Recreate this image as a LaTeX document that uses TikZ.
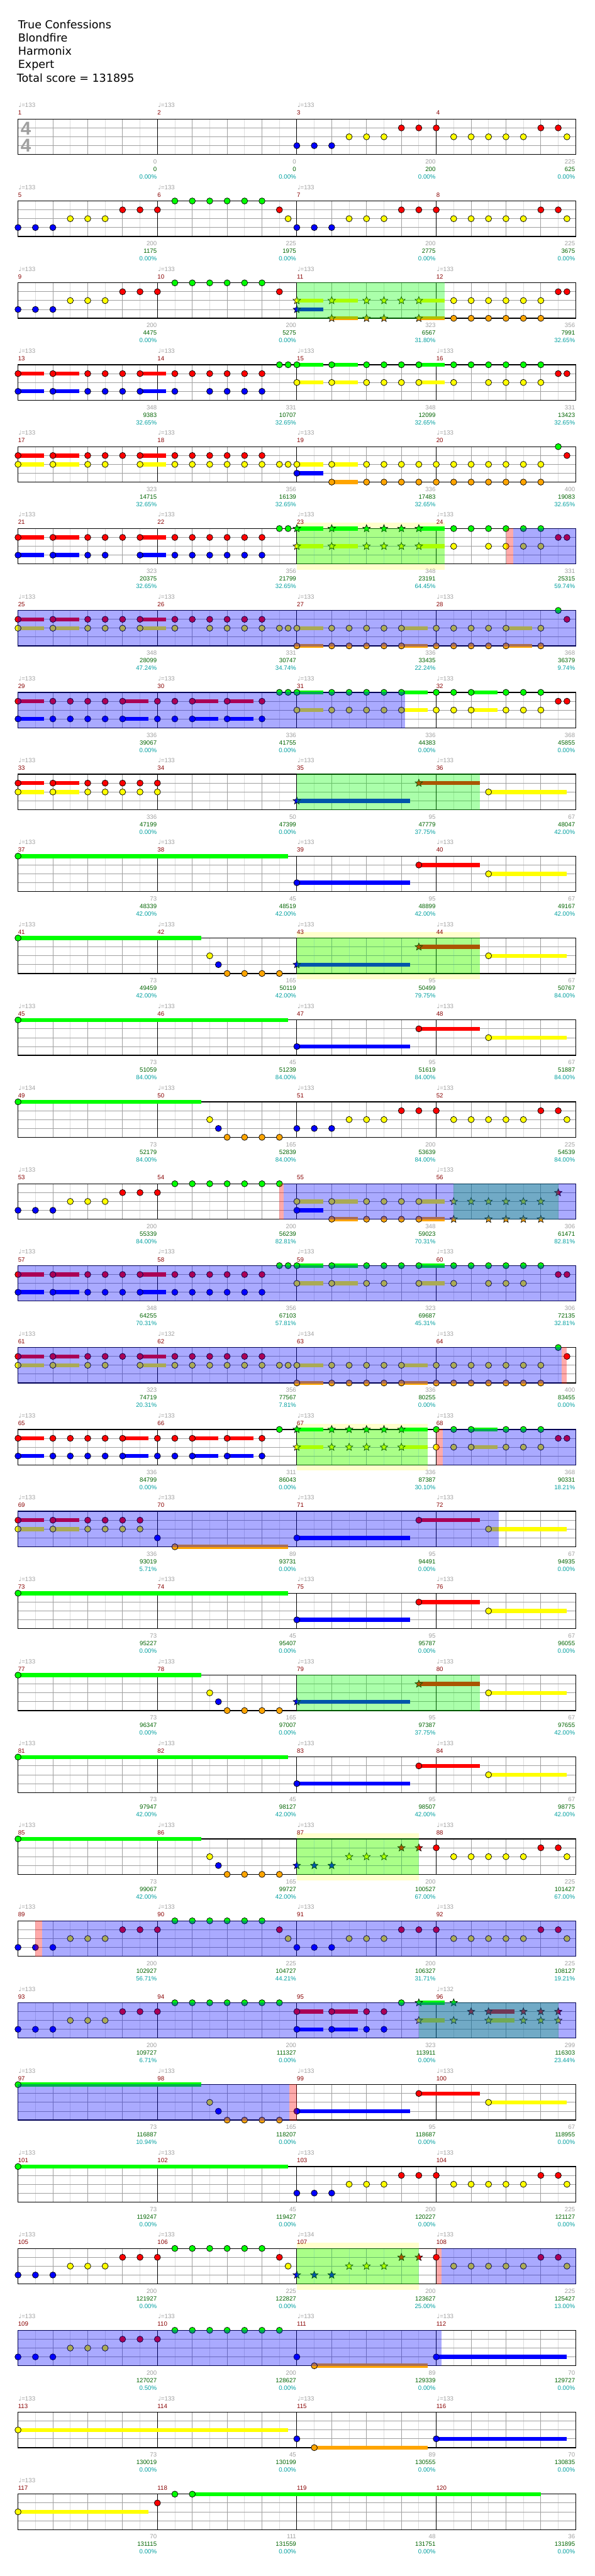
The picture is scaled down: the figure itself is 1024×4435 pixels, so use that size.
\documentclass[tikz,border=0pt]{standalone}
\usepackage{fontspec}
\setmainfont{Liberation Sans}
\newfontfamily\titlef{DejaVu Sans}
\newfontfamily\symf{DejaVu Sans}
\usetikzlibrary{shapes.geometric}
\definecolor{c0}{RGB}{0,255,0}
\definecolor{c1}{RGB}{255,0,0}
\definecolor{c2}{RGB}{255,255,0}
\definecolor{c3}{RGB}{0,0,255}
\definecolor{c4}{RGB}{255,165,0}
\definecolor{lgray}{RGB}{221,221,221}
\definecolor{mgray}{RGB}{160,160,160}
\definecolor{tgray}{RGB}{160,160,160}
\definecolor{mred}{RGB}{136,0,0}
\definecolor{sgreen}{RGB}{0,100,0}
\definecolor{steal}{RGB}{0,160,160}
\definecolor{paley}{RGB}{255,255,204}
\newcommand\smf{\fontsize{10.5}{12}\selectfont}
\tikzset{
 notest/.style={draw=black,line width=0.8pt},
 starst/.style={star,star points=5,star point ratio=2.3,minimum size=13.5pt,inner sep=0pt,draw=black,line width=0.7pt},
 mnum/.style={anchor=base west,inner sep=0pt,text=mred,font=\smf},
 tmp/.style={anchor=base west,inner sep=0pt,text=tgray,font=\smf},
 sca/.style={anchor=base east,inner sep=0pt,text=tgray,font=\smf},
 scb/.style={anchor=base east,inner sep=0pt,text=sgreen,font=\smf},
 scc/.style={anchor=base east,inner sep=0pt,text=steal,font=\smf},
 ttl/.style={anchor=base west,inner sep=0pt,font=\titlef\fontsize{19}{23}\selectfont},
 tsig/.style={anchor=base,inner sep=0pt,text=mgray,font=\bfseries\fontsize{32}{32}\selectfont},
}
\newcommand\nt[2]{\filldraw[notest,fill=c#2] ({31+30*(#1)},{15.25*(#2)}) circle (5.3pt);}
\newcommand\st[2]{\node[starst,fill=c#2] at ({31+30*(#1)},{15.25*(#2)}) {};}
\newcommand\su[3]{\fill[c#3] ({31+30*(#1)},{15.25*(#3)-3.5}) rectangle ({31+30*(#2)},{15.25*(#3)+3.5});}
\newcommand\sn[3]{\su{#1}{#2}{#3}\nt{#1}{#3}}
\newcommand\sst[3]{\su{#1}{#2}{#3}\st{#1}{#3}}
\newcommand\Ns[1]{\foreach \qa/\qb in {#1}{\nt{\qa}{\qb}}}
\newcommand\Nl[2]{\foreach \qa in {#2}{\nt{\qa}{#1}}}
\newcommand\Sl[2]{\foreach \qa in {#2}{\st{\qa}{#1}}}
\newcommand\hpart[2]{\sn{0}{1.5}{#1}\sn{2}{3.5}{#1}\sn{7}{8.5}{#1}\Nl{#1}{#2}}
\newcommand\hB[1]{\sn{0}{1.5}{#1}\sn{6}{7.5}{#1}\sn{10}{11.5}{#1}\sn{12}{13.5}{#1}\Nl{#1}{2,3,4,5,8,9,14}}
\newcommand\riffH{\Nl{3}{0,1,2}\Nl{2}{3,4,5}\Nl{1}{6,7,8}\Nl{0}{9,...,14}}
\newcommand\riffA[1]{\foreach \qa/\qb in {0/3,1/3,2/3,3/2,4/2,5/2,6/1,7/1,8/1,9/2,10/2,11/2,12/2,13/2,14/1,15/1,15.5/2}{\nt{#1+\qa}{\qb}}}
\newcommand\riffAS{\Sl{3}{16,17,18}\Sl{2}{19,20,21}\Sl{1}{22,23}\nt{24}{1}\Nl{2}{25,...,29}\Nl{1}{30,31}\nt{31.5}{2}}
\newcommand\leadin{\sn{0}{10.5}{0}\Ns{11/2,11.5/3,12/4,13/4,14/4,15/4}}
\newcommand\longN{\sn{16}{22.5}{3}\sn{23}{26.5}{1}\sn{27}{31.5}{2}}
\newcommand\longS{\sst{16}{22.5}{3}\sst{23}{26.5}{1}\sn{27}{31.5}{2}}
\newcommand\staff{%
 \foreach \qa in {1,3,...,31}{\draw[lgray,line width=1pt] ({31+30*\qa},0) -- ({31+30*\qa},61);}
 \foreach \qa in {2,4,6,10,12,14,18,20,22,26,28,30}{\draw[mgray,line width=1pt] ({31+30*\qa},0) -- ({31+30*\qa},61);}
 \foreach \qa in {1,2,3}{\draw[mgray,line width=1pt] (31,{15.25*\qa}) -- (991,{15.25*\qa});}
 \foreach \qa in {8,16,24}{\draw[black,line width=1pt] ({31+30*\qa},0) -- ({31+30*\qa},61);}
 \draw[black,line width=1.4pt] (31,0) rectangle (991,61);}
\newcommand\ovB[2]{\fill[blue,opacity=0.333] (#1,-0.7) rectangle (#2,61.7);}
\newcommand\ovR[2]{\fill[red,opacity=0.333] (#1,-0.7) rectangle (#2,61.7);}
\newcommand\ovG[2]{\fill[c0,opacity=0.333] ({31+30*(#1)},-0.7) rectangle ({31+30*(#2)},61.7);}
\newcommand\pale[2]{\fill[paley] ({31+30*(#1)},-10) rectangle ({31+30*(#2)},71);}
\newcommand\lab[6]{%
 \node[mnum] at ({31+240*#1},-7) {#2};
 \if\relax\detokenize{#3}\relax\else\node[tmp] at ({32+240*#1},-20) {{\symf\char"2669}=#3};\fi
 \node[sca] at ({270+240*#1},77) {#4};
 \node[scb] at ({270+240*#1},90) {#5};
 \node[scc] at ({270+240*#1},103) {#6};}
\begin{document}
\begin{tikzpicture}[x=1pt,y=-1pt]
\fill[white] (0,0) rectangle (1024,4435);
\useasboundingbox (0,0) rectangle (1024,4435);
\node[ttl] (t1) at (31,49) {True Confessions};
\node[ttl] (t2) at (31,72) {Blondfire};
\node[ttl] (t3) at (31,95) {Harmonix};
\node[ttl] (t4) at (31,117) {Expert};
\node[ttl] (t5) at (29,141) {Total score = 131895};
% row 0
\begin{scope}[shift={(0,205)}]
\staff
\node[tsig] (ts1) at (44.5,27) {4};\node[tsig] (ts2) at (44.5,57) {4};
\riffA{16}
\lab{0}{1}{133}{0}{0}{0.00\%}\lab{1}{2}{133}{0}{0}{0.00\%}\lab{2}{3}{133}{200}{200}{0.00\%}\lab{3}{4}{}{225}{625}{0.00\%}
\end{scope}
% row 1
\begin{scope}[shift={(0,346)}]
\staff
\riffH\Ns{15/1,15.5/2}\riffA{16}
\lab{0}{5}{133}{200}{1175}{0.00\%}\lab{1}{6}{133}{225}{1975}{0.00\%}\lab{2}{7}{133}{200}{2775}{0.00\%}\lab{3}{8}{}{225}{3675}{0.00\%}
\end{scope}
% row 2
\begin{scope}[shift={(0,487)}]
\staff
\riffH\nt{15}{1}
\sst{16}{17.5}{2}\sst{16}{17.5}{3}\sst{18}{19.5}{2}\sst{18}{19.5}{4}\Sl{2}{20,21,22}\Sl{4}{20,21}\sst{23}{24.5}{2}\sst{23}{24.5}{4}
\Nl{2}{25,...,30}\Nl{4}{25,...,30}\Nl{1}{31,31.5}
\ovG{16}{24.5}
\lab{0}{9}{133}{200}{4475}{0.00\%}\lab{1}{10}{133}{200}{5275}{0.00\%}\lab{2}{11}{133}{323}{6567}{31.80\%}\lab{3}{12}{133}{356}{7991}{32.65\%}
\end{scope}
% row 3
\begin{scope}[shift={(0,628)}]
\staff
\hpart{1}{4,5,6,9,10,11,12,13,14}\hpart{3}{4,5,6,9,11,12,13,14}
\Nl{0}{15,15.5}
\sn{16}{17.5}{0}\sn{18}{19.5}{0}\sn{23}{24.5}{0}\Nl{0}{20,21,22,25,26,27,28,29,30}
\sn{16}{17.5}{2}\sn{18}{19.5}{2}\sn{23}{24.5}{2}\Nl{2}{20,21,22,25,27,28,29,30}
\Nl{1}{31,31.5}
\lab{0}{13}{133}{348}{9383}{32.65\%}\lab{1}{14}{133}{331}{10707}{32.65\%}\lab{2}{15}{133}{348}{12099}{32.65\%}\lab{3}{16}{133}{331}{13423}{32.65\%}
\end{scope}
% row 4
\begin{scope}[shift={(0,769)}]
\staff
\hpart{1}{4,5,6,9,10,11,12,13,14}\hpart{2}{4,5,9,10,11,12,13,14}
\Nl{2}{15,15.5}\sn{16}{17.5}{2}\sn{18}{19.5}{2}\Nl{2}{20,...,30}
\sn{16}{17.5}{3}
\sn{18}{19.5}{4}\Nl{4}{20,...,30}
\nt{31}{0}\nt{31.5}{1}
\lab{0}{17}{133}{323}{14715}{32.65\%}\lab{1}{18}{133}{356}{16139}{32.65\%}\lab{2}{19}{133}{336}{17483}{32.65\%}\lab{3}{20}{133}{400}{19083}{32.65\%}
\end{scope}
% row 5
\begin{scope}[shift={(0,910)}]
\pale{16}{24.5}
\staff
\hpart{1}{4,5,6,9,10,11,12,13,14}\hpart{3}{4,5,9,10,11,12,13,14}
\Nl{0}{15,15.5}
\sst{16}{17.5}{0}\sst{18}{19.5}{0}\sst{23}{24.5}{0}\Sl{0}{20,21,22}\Nl{0}{25,...,30}
\sst{16}{17.5}{2}\sst{18}{19.5}{2}\sst{23}{24.5}{2}\Sl{2}{20,21,22}\Nl{2}{25,27,28,29,30}
\Nl{1}{31,31.5}
\ovG{16}{24.5}\ovR{872}{884}\ovB{884}{991.7}
\lab{0}{21}{133}{323}{20375}{32.65\%}\lab{1}{22}{133}{356}{21799}{32.65\%}\lab{2}{23}{133}{348}{23191}{64.45\%}\lab{3}{24}{133}{331}{25315}{59.74\%}
\end{scope}
% row 6
\begin{scope}[shift={(0,1051)}]
\staff
\hpart{1}{4,5,6,9,10,11,12,13,14}\hpart{2}{4,5,6,9,11,12,13,14}
\Nl{2}{15,15.5}
\sn{16}{17.5}{2}\sn{22}{23.5}{2}\sn{28}{29.5}{2}\Nl{2}{18,19,20,21,24,25,26,27,30}
\sn{16}{17.5}{4}\sn{22}{23.5}{4}\sn{28}{29.5}{4}\Nl{4}{18,19,20,21,24,25,26,27,30}
\nt{31}{0}\nt{31.5}{1}
\ovB{30.3}{991.7}
\lab{0}{25}{133}{348}{28099}{47.24\%}\lab{1}{26}{133}{331}{30747}{34.74\%}\lab{2}{27}{133}{336}{33435}{22.24\%}\lab{3}{28}{133}{368}{36379}{9.74\%}
\end{scope}
% row 7
\begin{scope}[shift={(0,1192)}]
\staff
\hB{1}\hB{3}
\Nl{0}{15,15.5}
\sn{16}{17.5}{0}\sn{22}{23.5}{0}\sn{26}{27.5}{0}\Nl{0}{18,19,20,21,24,25,28,29,30}
\sn{16}{17.5}{2}\sn{22}{23.5}{2}\sn{26}{27.5}{2}\Nl{2}{18,19,20,21,24,25,28,29,30}
\Nl{1}{31,31.5}
\ovB{30.3}{697}
\lab{0}{29}{133}{336}{39067}{0.00\%}\lab{1}{30}{133}{336}{41755}{0.00\%}\lab{2}{31}{133}{336}{44383}{0.00\%}\lab{3}{32}{133}{368}{45855}{0.00\%}
\end{scope}
% row 8
\begin{scope}[shift={(0,1333)}]
\staff
\sn{0}{1.5}{1}\sn{2}{3.5}{1}\Nl{1}{4,5,6,7,8}
\sn{0}{1.5}{2}\sn{2}{3.5}{2}\Nl{2}{4,5,6,7,8}
\longS
\ovG{16}{26.5}
\lab{0}{33}{133}{336}{47199}{0.00\%}\lab{1}{34}{133}{50}{47399}{0.00\%}\lab{2}{35}{133}{95}{47779}{37.75\%}\lab{3}{36}{133}{67}{48047}{42.00\%}
\end{scope}
% row 9
\begin{scope}[shift={(0,1474)}]
\staff
\sn{0}{15.5}{0}\longN
\lab{0}{37}{133}{73}{48339}{42.00\%}\lab{1}{38}{133}{45}{48519}{42.00\%}\lab{2}{39}{133}{95}{48899}{42.00\%}\lab{3}{40}{133}{67}{49167}{42.00\%}
\end{scope}
% row 10
\begin{scope}[shift={(0,1615)}]
\pale{16}{26.5}
\staff
\leadin\longS
\ovG{16}{26.5}
\lab{0}{41}{133}{73}{49459}{42.00\%}\lab{1}{42}{133}{165}{50119}{42.00\%}\lab{2}{43}{133}{95}{50499}{79.75\%}\lab{3}{44}{133}{67}{50767}{84.00\%}
\end{scope}
% row 11
\begin{scope}[shift={(0,1756)}]
\staff
\sn{0}{15.5}{0}\longN
\lab{0}{45}{133}{73}{51059}{84.00\%}\lab{1}{46}{133}{45}{51239}{84.00\%}\lab{2}{47}{133}{95}{51619}{84.00\%}\lab{3}{48}{133}{67}{51887}{84.00\%}
\end{scope}
% row 12
\begin{scope}[shift={(0,1897)}]
\staff
\leadin\riffA{16}
\lab{0}{49}{134}{73}{52179}{84.00\%}\lab{1}{50}{133}{165}{52839}{84.00\%}\lab{2}{51}{133}{200}{53639}{84.00\%}\lab{3}{52}{133}{225}{54539}{84.00\%}
\end{scope}
% row 13
\begin{scope}[shift={(0,2038)}]
\staff
\Nl{3}{0,1,2}\Nl{2}{3,4,5}\Nl{1}{6,7,8}\Nl{0}{9,...,15}
\sn{16}{17.5}{2}\sn{18}{19.5}{2}\sn{23}{24.5}{2}\Nl{2}{20,21,22}\Sl{2}{25,...,30}
\sn{16}{17.5}{3}
\sn{18}{19.5}{4}\sn{23}{24.5}{4}\Nl{4}{20,21,22}\Sl{4}{25,27,28,29,30}
\st{31}{1}
\ovR{481}{488}\ovG{25}{31}\ovB{488}{991.7}
\lab{0}{53}{133}{200}{55339}{84.00\%}\lab{1}{54}{}{200}{56239}{82.81\%}\lab{2}{55}{}{348}{59023}{70.31\%}\lab{3}{56}{133}{306}{61471}{82.81\%}
\end{scope}
% row 14
\begin{scope}[shift={(0,2179)}]
\staff
\hpart{1}{4,5,6,9,10,11,12,13,14}\hpart{3}{4,5,6,9,10,11,12,13,14}
\Nl{0}{15,15.5}\sn{16}{17.5}{0}\sn{18}{19.5}{0}\sn{23}{24.5}{0}\Nl{0}{20,21,22,25,26,27,28,29,30}
\sn{16}{17.5}{2}\sn{18}{19.5}{2}\sn{23}{24.5}{2}\Nl{2}{20,21,25,27,28,29}
\Nl{1}{31,31.5}
\ovB{30.3}{991.7}
\lab{0}{57}{133}{348}{64255}{70.31\%}\lab{1}{58}{133}{356}{67103}{57.81\%}\lab{2}{59}{133}{323}{69687}{45.31\%}\lab{3}{60}{133}{306}{72135}{32.81\%}
\end{scope}
% row 15
\begin{scope}[shift={(0,2320)}]
\staff
\hpart{1}{4,5,6,9,10,11,12,13,14}\hpart{2}{4,5,9,10,11,12,13,14}
\Nl{2}{15,15.5}\sn{16}{17.5}{2}\sn{22}{23.5}{2}\Nl{2}{18,19,20,21,24,25,26,27,28,29,30}
\sn{16}{17.5}{4}\sn{22}{23.5}{4}\Nl{4}{18,19,20,21,24,25,26,27,28,29,30}
\nt{31}{0}\nt{31.5}{1}
\ovB{30.3}{967}\ovR{967}{976}
\lab{0}{61}{133}{323}{74719}{20.31\%}\lab{1}{62}{132}{356}{77567}{7.81\%}\lab{2}{63}{134}{336}{80255}{0.00\%}\lab{3}{64}{133}{400}{83455}{0.00\%}
\end{scope}
% row 16
\begin{scope}[shift={(0,2461)}]
\pale{16}{23.5}
\staff
\hB{1}\hB{3}
\nt{15}{0}
\sst{16}{17.5}{0}\sst{22}{23.5}{0}\Sl{0}{18,19,20,21}\sn{26}{27.5}{0}\Nl{0}{24,25,28,29,30}
\sst{16}{17.5}{2}\sst{22}{23.5}{2}\Sl{2}{18,19,20,21}\sn{26}{27.5}{2}\Nl{2}{24,25,28,29,30}
\Nl{1}{31,31.5}
\ovG{16}{23.5}\ovR{751}{762}\ovB{762}{991.7}
\lab{0}{65}{133}{336}{84799}{0.00\%}\lab{1}{66}{133}{311}{86043}{0.00\%}\lab{2}{67}{133}{336}{87387}{30.10\%}\lab{3}{68}{133}{368}{90331}{18.21\%}
\end{scope}
% row 17
\begin{scope}[shift={(0,2602)}]
\staff
\sn{0}{1.5}{1}\sn{2}{3.5}{1}\Nl{1}{4,5,6,7}
\sn{0}{1.5}{2}\sn{2}{3.5}{2}\Nl{2}{4,5,6,7}
\nt{8}{3}\sn{9}{15.5}{4}
\longN
\ovB{30.3}{859}
\lab{0}{69}{133}{336}{93019}{5.71\%}\lab{1}{70}{133}{89}{93731}{0.00\%}\lab{2}{71}{133}{95}{94491}{0.00\%}\lab{3}{72}{133}{67}{94935}{0.00\%}
\end{scope}
% row 18
\begin{scope}[shift={(0,2743)}]
\staff
\sn{0}{15.5}{0}\longN
\lab{0}{73}{133}{73}{95227}{0.00\%}\lab{1}{74}{133}{45}{95407}{0.00\%}\lab{2}{75}{133}{95}{95787}{0.00\%}\lab{3}{76}{133}{67}{96055}{0.00\%}
\end{scope}
% row 19
\begin{scope}[shift={(0,2884)}]
\staff
\leadin\longS
\ovG{16}{26.5}
\lab{0}{77}{133}{73}{96347}{0.00\%}\lab{1}{78}{133}{165}{97007}{0.00\%}\lab{2}{79}{133}{95}{97387}{37.75\%}\lab{3}{80}{133}{67}{97655}{42.00\%}
\end{scope}
% row 20
\begin{scope}[shift={(0,3025)}]
\staff
\sn{0}{15.5}{0}\longN
\lab{0}{81}{133}{73}{97947}{42.00\%}\lab{1}{82}{133}{45}{98127}{42.00\%}\lab{2}{83}{133}{95}{98507}{42.00\%}\lab{3}{84}{133}{67}{98775}{42.00\%}
\end{scope}
% row 21
\begin{scope}[shift={(0,3166)}]
\pale{16}{23}
\staff
\leadin\riffAS
\ovG{16}{23}
\lab{0}{85}{133}{73}{99067}{42.00\%}\lab{1}{86}{133}{165}{99727}{42.00\%}\lab{2}{87}{133}{200}{100527}{67.00\%}\lab{3}{88}{133}{225}{101427}{67.00\%}
\end{scope}
% row 22
\begin{scope}[shift={(0,3307)}]
\staff
\riffH\Ns{15/1,15.5/2}\riffA{16}
\ovR{61}{72.5}\ovB{72.5}{991.7}
\lab{0}{89}{133}{200}{102927}{56.71\%}\lab{1}{90}{133}{225}{104727}{44.21\%}\lab{2}{91}{133}{200}{106327}{31.71\%}\lab{3}{92}{133}{225}{108127}{19.21\%}
\end{scope}
% row 23
\begin{scope}[shift={(0,3448)}]
\staff
\riffH\nt{15}{0}
\sn{16}{17.5}{1}\sn{18}{19.5}{1}\Nl{1}{20,21}
\sn{16}{17.5}{3}\sn{18}{19.5}{3}\Nl{3}{20,21}
\nt{22}{0}\sst{23}{24.5}{0}\st{25}{0}
\sst{23}{24.5}{2}\st{25}{2}
\st{26}{1}\sst{27}{28.5}{1}\Sl{1}{29,30,31}
\sst{27}{28.5}{2}\Sl{2}{29,30,31}
\ovG{23}{31}\ovB{30.3}{991.7}
\lab{0}{93}{133}{200}{109727}{6.71\%}\lab{1}{94}{}{200}{111327}{0.00\%}\lab{2}{95}{}{323}{113911}{0.00\%}\lab{3}{96}{132}{299}{116303}{23.44\%}
\end{scope}
% row 24
\begin{scope}[shift={(0,3589)}]
\staff
\leadin\longN
\ovB{30.3}{498}\ovR{498}{511}
\lab{0}{97}{133}{73}{116887}{10.94\%}\lab{1}{98}{133}{165}{118207}{0.00\%}\lab{2}{99}{133}{95}{118687}{0.00\%}\lab{3}{100}{133}{67}{118955}{0.00\%}
\end{scope}
% row 25
\begin{scope}[shift={(0,3730)}]
\staff
\sn{0}{15.5}{0}\riffA{16}
\lab{0}{101}{133}{73}{119247}{0.00\%}\lab{1}{102}{133}{45}{119427}{0.00\%}\lab{2}{103}{133}{200}{120227}{0.00\%}\lab{3}{104}{133}{225}{121127}{0.00\%}
\end{scope}
% row 26
\begin{scope}[shift={(0,3871)}]
\pale{16}{23}
\staff
\riffH\Ns{15/1,15.5/2}\riffAS
\ovG{16}{23}\ovR{751}{760}\ovB{760}{991.7}
\lab{0}{105}{133}{200}{121927}{0.00\%}\lab{1}{106}{133}{225}{122827}{0.00\%}\lab{2}{107}{134}{200}{123627}{25.00\%}\lab{3}{108}{133}{225}{125427}{13.00\%}
\end{scope}
% row 27
\begin{scope}[shift={(0,4012)}]
\staff
\riffH\nt{15}{0}\nt{16}{3}\sn{17}{23.5}{4}\sn{24}{31.5}{3}
\ovB{30.3}{760}
\lab{0}{109}{133}{200}{127027}{0.50\%}\lab{1}{110}{133}{200}{128627}{0.00\%}\lab{2}{111}{133}{89}{129339}{0.00\%}\lab{3}{112}{133}{70}{129727}{0.00\%}
\end{scope}
% row 28
\begin{scope}[shift={(0,4153)}]
\staff
\sn{0}{15.5}{2}\nt{16}{3}\sn{17}{23.5}{4}\sn{24}{31.5}{3}
\lab{0}{113}{133}{73}{130019}{0.00\%}\lab{1}{114}{133}{45}{130199}{0.00\%}\lab{2}{115}{133}{89}{130555}{0.00\%}\lab{3}{116}{133}{70}{130835}{0.00\%}
\end{scope}
% row 29
\begin{scope}[shift={(0,4294)}]
\staff
\sn{0}{7.5}{2}\nt{8}{1}\nt{9}{0}\sn{10}{30}{0}
\lab{0}{117}{133}{70}{131115}{0.00\%}\lab{1}{118}{}{111}{131559}{0.00\%}\lab{2}{119}{}{48}{131751}{0.00\%}\lab{3}{120}{}{36}{131895}{0.00\%}
\end{scope}
\end{tikzpicture}
\end{document}
